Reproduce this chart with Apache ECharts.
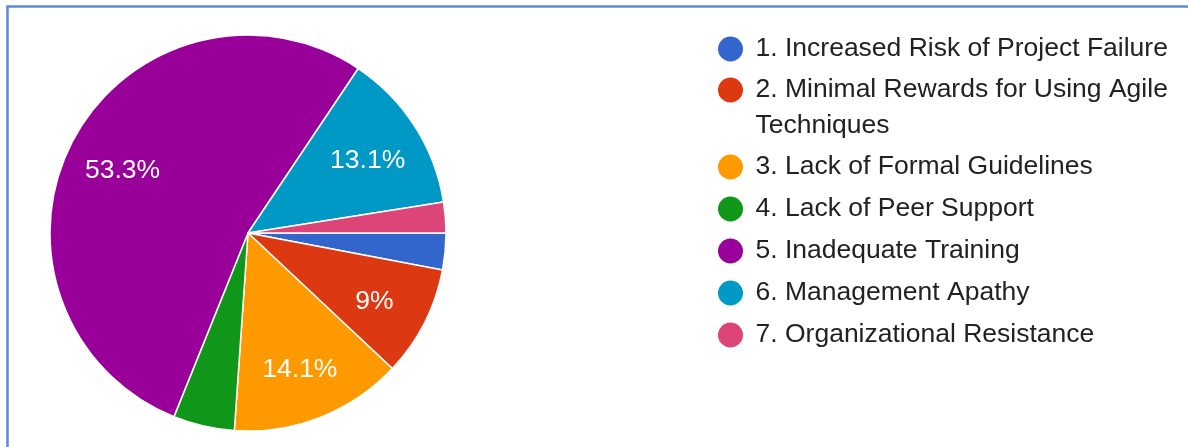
<!DOCTYPE html>
<html>
<head>
<meta charset="utf-8">
<title>Agile adoption barriers</title>
<script src="https://cdn.jsdelivr.net/npm/echarts@6.0.0/dist/echarts.min.js"></script>
<style>
  html, body { margin: 0; padding: 0; background: #fff; }
  #J_chartPieBox { width: 1188px; height: 447px; }
</style>
</head>
<body>
<div id="J_chartPieBox"></div>
<script>
  var categories = [
    '1. Increased Risk of Project Failure',
    '2. Minimal Rewards for Using Agile Techniques',
    '3. Lack of Formal Guidelines',
    '4. Lack of Peer Support',
    '5. Inadequate Training',
    '6. Management Apathy',
    '7. Organizational Resistance'
  ]
  var shares = [3.0, 9.0, 14.1, 5.0, 53.3, 13.1, 2.5]
  var palette = ['#3366cc', '#dc3912', '#ff9900', '#109618', '#990099', '#0099c6', '#dd4477']

  var pieData = categories.map(function (name, i) {
    return { value: shares[i], name: name }
  })

  var font = 'Liberation Sans, Arial, sans-serif'
  var legendFont = { fontFamily: font, fontSize: 26.5, color: '#222' }

  // one vertical legend block, circle icons, text 12px after them
  function legendBox (top, names) {
    return {
      orient: 'vertical',
      left: 716,
      top: top,
      padding: 0,
      itemGap: 7,
      itemWidth: 40,
      itemHeight: 27,
      icon: 'circle',
      data: names,
      textStyle: Object.assign({ lineHeight: 35 }, legendFont)
    }
  }

  // the wrapped entry: icon lines up with the first line of text
  var wrappedLegend = legendBox(53.5, [categories[1]])
  wrappedLegend.formatter = function (name) {
    var cut = name.lastIndexOf(' ')
    return '{a|' + name.slice(0, cut) + '}\n{b|' + name.slice(cut + 1) + '}'
  }
  wrappedLegend.textStyle.rich = {
    a: Object.assign({ lineHeight: 72 }, legendFont),
    b: Object.assign({ lineHeight: 1 }, legendFont)
  }

  var option = {
    animation: false,
    color: palette,
    graphic: [
      {
        type: 'polyline',
        silent: true,
        shape: { points: [[7.5, 447], [7.5, 6.5], [1188, 6.5]] },
        style: { stroke: '#5b88d8', lineWidth: 2.5, fill: null }
      }
    ],
    legend: [
      legendBox(31.5, [categories[0]]),
      wrappedLegend,
      legendBox(149.5, categories.slice(2))
    ],
    series: [
      {
        name: 'Share',
        type: 'pie',
        radius: 198,
        center: [248, 233],
        startAngle: 0,
        clockwise: true,
        data: pieData,
        label: { show: false },
        labelLine: { show: false },
        itemStyle: { borderColor: '#fff', borderWidth: 1.5 },
        emphasis: { scale: false }
      },
      {
        // label carrier only, puts the percentages further out than 'inside'
        name: 'Labels',
        type: 'pie',
        radius: [80, 198],
        center: [248, 233],
        startAngle: 0,
        clockwise: true,
        silent: true,
        data: pieData,
        itemStyle: { color: 'transparent' },
        labelLine: { show: false },
        labelLayout: { dy: 4 },
        label: {
          position: 'inside',
          color: '#fff',
          fontFamily: font,
          fontSize: 26.5,
          formatter: function (p) {
            return p.value >= 8 ? p.value + '%' : ''
          }
        }
      }
    ]
  }

  var chartPie = echarts.init(document.getElementById('J_chartPieBox'))
  chartPie.setOption(option)
  window.addEventListener('resize', function () {
    chartPie.resize()
  })
</script>
</body>
</html>
